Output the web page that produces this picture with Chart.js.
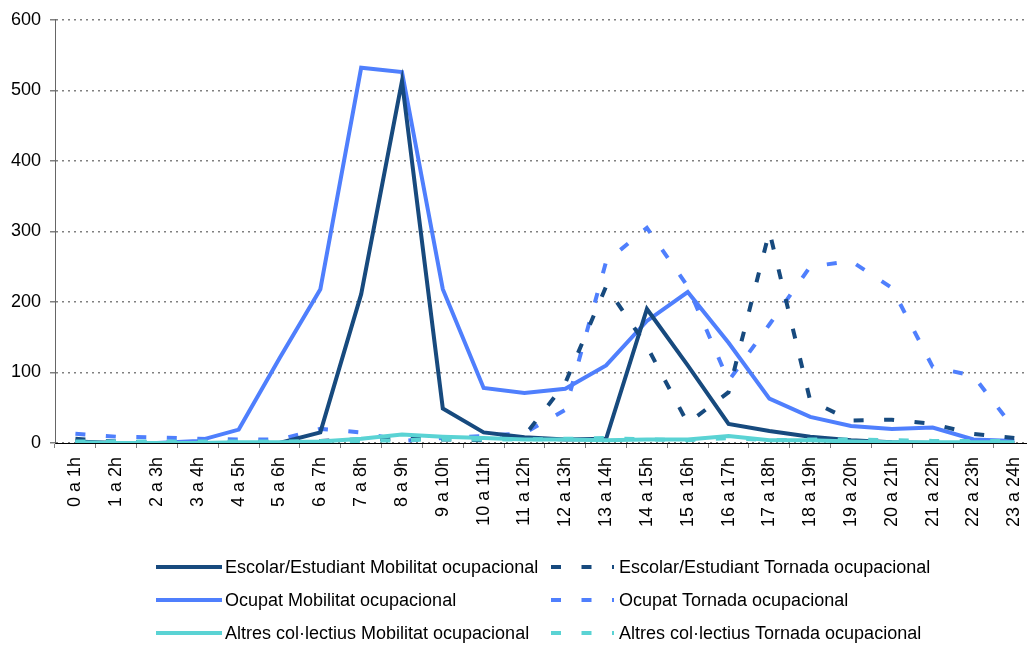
<!DOCTYPE html>
<html>
<head>
<meta charset="utf-8">
<script src="https://cdn.jsdelivr.net/npm/chart.js@4"></script>
<style>
  html, body { margin: 0; padding: 0; background: #fff; overflow: hidden; }
</style>
</head>
<body>
<canvas id="mobilitatChart" width="1045" height="645"></canvas>
<script>
// Franges horaries
var hores = [
  "0 a 1h", "1 a 2h", "2 a 3h", "3 a 4h", "4 a 5h", "5 a 6h",
  "6 a 7h", "7 a 8h", "8 a 9h", "9 a 10h", "10 a 11h", "11 a 12h",
  "12 a 13h", "13 a 14h", "14 a 15h", "15 a 16h", "16 a 17h", "17 a 18h",
  "18 a 19h", "19 a 20h", "20 a 21h", "21 a 22h", "22 a 23h", "23 a 24h"
];

// Valors per serie (llegits del grafic)
var escolarMobilitat = [2, 0, 0, 0, 0, 0, 15, 211, 513, 49, 15, 8, 5, 6, 190, 110, 27, 17, 9, 4, 1, 0, 0, 0];
var escolarTornada   = [6, 2, 1, 1, 1, 1, 3, 5, 6, 5, 4, 10, 85, 222, 137, 28, 72, 300, 60, 32, 33, 27, 13, 7];
var ocupatMobilitat  = [0, 0, 0, 3, 19, 120, 218, 532, 526, 218, 78, 71, 77, 110, 173, 214, 142, 63, 37, 24, 20, 22, 5, 3];
var ocupatTornada    = [13, 9, 8, 6, 5, 5, 20, 15, 3, 7, 10, 14, 47, 257, 305, 222, 88, 168, 250, 258, 220, 108, 95, 20];
var altresMobilitat  = [1, 0, 0, 0, 1, 1, 2, 6, 12, 9, 7, 5, 5, 4, 5, 5, 10, 4, 4, 2, 1, 1, 1, 1];
var altresTornada    = [2, 2, 2, 2, 2, 2, 3, 3, 4, 5, 5, 5, 6, 7, 5, 4, 7, 4, 5, 5, 4, 3, 3, 3];

var yTicks = [0, 100, 200, 300, 400, 500, 600];

var FONT = "'Liberation Sans', Arial, sans-serif";
var navy = "#174a7e";
var blue = "#4f7ffd";
var teal = "#5ad3d4";
var dash = [10, 20.5];

function serie(label, data, color, dashed, order) {
  return {
    label: label,
    data: data,
    borderColor: color,
    backgroundColor: color,
    borderWidth: 4,
    borderDash: dashed ? dash : [],
    borderCapStyle: "butt",
    borderJoinStyle: "miter",
    pointRadius: 0,
    pointHoverRadius: 0,
    tension: 0,
    fill: false,
    order: order
  };
}

// Llegenda a dues columnes, com l'original
var legendaPlugin = {
  id: "legenda",
  afterDraw: function (chart) {
    var ctx = chart.ctx;
    var files = [567, 600, 633];
    var cols = [
      { x1: 156, x2: 222, text: 225 },
      { x1: 551, x2: 614, text: 619 }
    ];
    chart.data.datasets.forEach(function (ds, i) {
      var y = files[Math.floor(i / 2)];
      var c = cols[i % 2];
      ctx.save();
      ctx.strokeStyle = ds.borderColor;
      ctx.lineWidth = 4;
      ctx.lineCap = "butt";
      ctx.setLineDash(ds.borderDash);
      ctx.beginPath();
      ctx.moveTo(c.x1, y);
      ctx.lineTo(c.x2, y);
      ctx.stroke();
      ctx.setLineDash([]);
      ctx.fillStyle = "#000";
      ctx.font = "18px " + FONT;
      ctx.textBaseline = "middle";
      ctx.textAlign = "left";
      ctx.fillText(ds.label, c.text, y + 1);
      ctx.restore();
    });
  }
};

var ctx = document.getElementById("mobilitatChart").getContext("2d");

var mobilitatChart = new Chart(ctx, {
  type: "line",
  data: {
    labels: hores,
    datasets: [
      serie("Escolar/Estudiant Mobilitat ocupacional", escolarMobilitat, navy, false, 2),
      serie("Escolar/Estudiant Tornada ocupacional", escolarTornada, navy, true, 3),
      serie("Ocupat Mobilitat ocupacional", ocupatMobilitat, blue, false, 4),
      serie("Ocupat Tornada ocupacional", ocupatTornada, blue, true, 5),
      serie("Altres col·lectius Mobilitat ocupacional", altresMobilitat, teal, false, 1),
      serie("Altres col·lectius Tornada ocupacional", altresTornada, teal, true, 0)
    ]
  },
  options: {
    responsive: false,
    animation: false,
    devicePixelRatio: 1,
    layout: {
      padding: { top: 17, right: 4, bottom: 82, left: 0 }
    },
    plugins: {
      legend: { display: false },
      tooltip: { enabled: false }
    },
    scales: {
      x: {
        offset: true,
        grid: {
          offset: true,
          drawOnChartArea: false,
          drawTicks: true,
          tickLength: 5,
          color: "#808080"
        },
        border: { color: "#000", width: 1 },
        ticks: {
          autoSkip: false,
          minRotation: 90,
          maxRotation: 90,
          padding: 9,
          color: "#000",
          font: { family: FONT, size: 18 }
        },
        afterFit: function (scale) {
          scale.height = 120;
        }
      },
      y: {
        min: 0,
        max: 600,
        afterBuildTicks: function (scale) {
          scale.ticks = yTicks.map(function (v) { return { value: v }; });
        },
        grid: {
          color: "#808080",
          lineWidth: 1.5,
          tickLength: 5,
          tickColor: "#808080",
          drawTicks: true
        },
        border: { color: "#666", width: 1, dash: [2, 4] },
        ticks: {
          padding: 9,
          color: "#000",
          font: { family: FONT, size: 18 }
        },
        afterFit: function (scale) {
          scale.width = 55;
        }
      }
    }
  },
  plugins: [legendaPlugin]
});
</script>
</body>
</html>
